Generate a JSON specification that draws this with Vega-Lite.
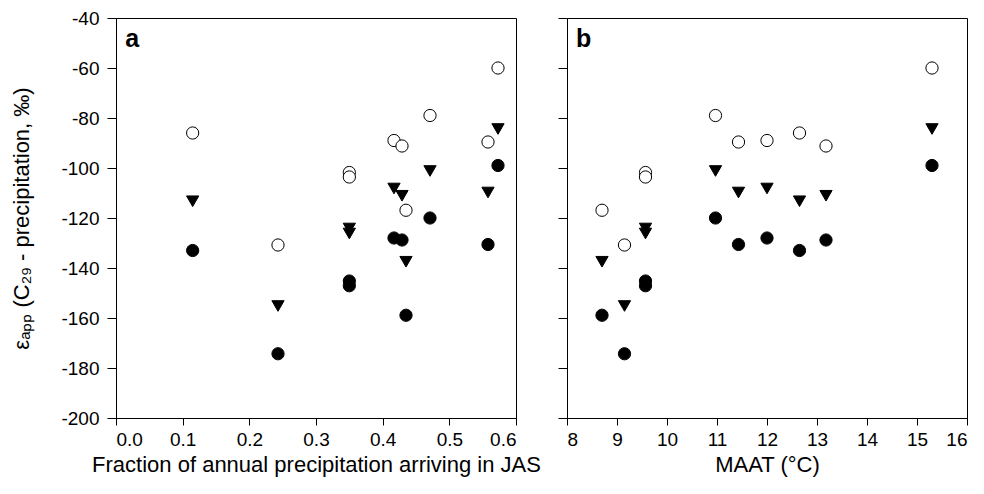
{
  "$schema": "https://vega.github.io/schema/vega-lite/v6.json",
  "background": "white",
  "padding": {"left": 10, "top": 8, "right": 5, "bottom": 5},
  "bounds": "flush",
  "datasets": {
    "sites": [
      {"frac": 0.115, "maat": 12.65, "open": -86.0, "tri": -113.3, "filled": -133.0},
      {"frac": 0.243, "maat": 9.15, "open": -130.8, "tri": -155.2, "filled": -174.3},
      {"frac": 0.350, "maat": 9.57, "open": -101.8, "tri": -124.2, "filled": -145.2},
      {"frac": 0.350, "maat": 9.57, "open": -103.6, "tri": -126.2, "filled": -147.1},
      {"frac": 0.417, "maat": 12.0, "open": -89.0, "tri": -108.2, "filled": -128.0},
      {"frac": 0.429, "maat": 13.18, "open": -91.2, "tri": -111.1, "filled": -128.8},
      {"frac": 0.435, "maat": 8.7, "open": -116.9, "tri": -137.5, "filled": -158.9},
      {"frac": 0.471, "maat": 10.97, "open": -79.0, "tri": -101.2, "filled": -120.0},
      {"frac": 0.558, "maat": 11.43, "open": -89.6, "tri": -109.8, "filled": -130.6},
      {"frac": 0.573, "maat": 15.3, "open": -60.0, "tri": -84.4, "filled": -99.0}
    ],
    "labelA": [{"label": "a"}],
    "labelB": [{"label": "b"}]
  },
  "config": {
    "view": {"stroke": "#000", "strokeWidth": 1},
    "axis": {
      "domainColor": "#000", "tickColor": "#000", "labelColor": "#000", "titleColor": "#000",
      "labelFont": "Liberation Sans", "titleFont": "Liberation Sans",
      "labelFontSize": 19, "titleFontSize": 22, "titleFontWeight": "normal",
      "grid": false
    },
    "axisX": {"tickSize": 7, "labelPadding": 5},
    "axisY": {"tickSize": 9, "labelPadding": 8},
    "text": {"font": "Liberation Sans"}
  },
  "spacing": 51,
  "hconcat": [
    {
      "width": 400, "height": 400,
      "layer": [
        {
          "data": {"name": "sites"},
          "transform": [{"fold": ["filled", "tri", "open"], "as": ["kind", "val"]}],
          "mark": {"type": "point", "filled": true, "stroke": "#000", "strokeWidth": 1, "size": 150, "opacity": 1},
          "encoding": {
            "x": {"field": "frac", "type": "quantitative", "scale": {"domain": [0, 0.6], "nice": false},
              "axis": {"values": [0, 0.1, 0.2, 0.3, 0.4, 0.5, 0.6], "format": ".1f", "title": "Fraction of annual precipitation arriving in JAS", "titlePadding": 5}},
            "y": {"field": "val", "type": "quantitative", "scale": {"domain": [-200, -40], "nice": false},
              "axis": {"values": [-200, -180, -160, -140, -120, -100, -80, -60, -40], "labelExpr": "replace(datum.label, '−', '-')", "title": "εₐₚₚ (C₂₉ - precipitation, ‰)", "titlePadding": 27}},
            "shape": {"field": "kind", "type": "nominal", "scale": {"domain": ["filled", "tri", "open"], "range": ["circle", "triangle-down", "circle"]}, "legend": null},
            "fill": {"field": "kind", "type": "nominal", "scale": {"domain": ["filled", "tri", "open"], "range": ["#000000", "#000000", "#ffffff"]}, "legend": null}
          }
        },
        {
          "data": {"name": "labelA"},
          "mark": {"type": "text", "fontWeight": "bold", "fontSize": 25, "align": "left", "baseline": "alphabetic"},
          "encoding": {
            "x": {"datum": 0.014, "type": "quantitative"},
            "y": {"datum": -51.7, "type": "quantitative"},
            "text": {"field": "label"}
          }
        }
      ]
    },
    {
      "width": 400, "height": 400,
      "layer": [
        {
          "data": {"name": "sites"},
          "transform": [{"fold": ["filled", "tri", "open"], "as": ["kind", "val"]}],
          "mark": {"type": "point", "filled": true, "stroke": "#000", "strokeWidth": 1, "size": 150, "opacity": 1},
          "encoding": {
            "x": {"field": "maat", "type": "quantitative", "scale": {"domain": [8, 16], "nice": false},
              "axis": {"values": [8, 9, 10, 11, 12, 13, 14, 15, 16], "title": "MAAT (°C)", "titlePadding": 5}},
            "y": {"field": "val", "type": "quantitative", "scale": {"domain": [-200, -40], "nice": false},
              "axis": {"values": [-200, -180, -160, -140, -120, -100, -80, -60, -40], "labels": false, "title": null}},
            "shape": {"field": "kind", "type": "nominal", "scale": {"domain": ["filled", "tri", "open"], "range": ["circle", "triangle-down", "circle"]}, "legend": null},
            "fill": {"field": "kind", "type": "nominal", "scale": {"domain": ["filled", "tri", "open"], "range": ["#000000", "#000000", "#ffffff"]}, "legend": null}
          }
        },
        {
          "data": {"name": "labelB"},
          "mark": {"type": "text", "fontWeight": "bold", "fontSize": 25, "align": "left", "baseline": "alphabetic"},
          "encoding": {
            "x": {"datum": 8.18, "type": "quantitative"},
            "y": {"datum": -51.7, "type": "quantitative"},
            "text": {"field": "label"}
          }
        }
      ]
    }
  ]
}
